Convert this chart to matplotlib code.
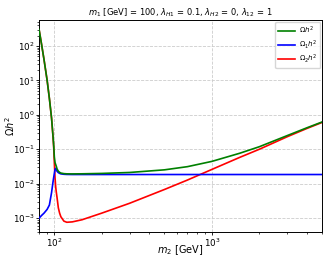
import matplotlib
matplotlib.use("Agg")
import matplotlib.pyplot as plt
from matplotlib.ticker import NullFormatter
import numpy as np

# m2 grid [GeV] and relic densities
m2 = np.array([80, 83, 86, 90, 93, 96, 98, 99, 100, 101, 102, 103, 104, 106,
               108, 110, 115, 120, 130, 150, 200, 300, 500, 700, 1000, 1500,
               2000, 3000, 4000, 5000])

omega1 = np.array([1.0e-3, 1.2e-3, 1.4e-3, 1.8e-3, 2.4e-3, 5.5e-3, 0.011,
                   0.015, 0.020, 0.026, 0.028, 0.026, 0.023, 0.021, 0.020,
                   0.0193, 0.0188, 0.0186, 0.0185, 0.0185, 0.0185, 0.0185,
                   0.0185, 0.0185, 0.0185, 0.0185, 0.0185, 0.0185, 0.0185,
                   0.0185])

omega2 = np.array([300, 110, 40, 10, 3, 0.8, 0.24, 0.12, 0.04, 0.015, 0.008,
                   0.0055, 0.004, 0.002, 0.0014, 0.0011, 8.2e-4, 7.6e-4,
                   7.8e-4, 9e-4, 1.4e-3, 2.7e-3, 6.8e-3, 0.0128, 0.026,
                   0.058, 0.10, 0.23, 0.40, 0.60])

omega = omega1 + omega2

fig = plt.figure(figsize=(3.34, 2.62), dpi=100)
ax = fig.add_axes([0.117, 0.115, 0.847, 0.809])

ax.loglog(m2, omega, color="green", lw=1.2, label=r"$\Omega h^2$", zorder=4)
ax.loglog(m2, omega1, color="blue", lw=1.2, label=r"$\Omega_1 h^2$", zorder=3)
ax.loglog(m2, omega2, color="red", lw=1.2, label=r"$\Omega_2 h^2$", zorder=2)

ax.set_xlim(80, 5000)
ax.set_ylim(4e-4, 570)
ax.xaxis.set_minor_formatter(NullFormatter())
ax.yaxis.set_minor_formatter(NullFormatter())
ax.grid(True, which="major", ls="--", color="0.8", lw=0.6)
ax.tick_params(labelsize=6.3, length=2.5, width=0.6, pad=1)
ax.tick_params(which="minor", length=1.5, width=0.5)
for s in ax.spines.values():
    s.set_linewidth(0.7)

ax.set_xlabel(r"$m_2$ [GeV]", fontsize=7)
ax.set_ylabel(r"$\Omega h^2$", fontsize=7)
# place axis labels where the reference has them
ax.xaxis.set_label_coords(0.5, -0.085)
ax.xaxis.label.set_va("center")
ax.yaxis.set_label_coords(-0.102, 0.5)
ax.yaxis.label.set_va("center")

ax.set_title(r"$m_1$ [GeV] = 100, $\lambda_{H1}$ = 0.1, $\lambda_{H2}$ = 0, $\lambda_{12}$ = 1",
             fontsize=6, pad=3)
ax.legend(loc="upper right", fontsize=5, handlelength=2.4, borderpad=0.4,
          labelspacing=0.3, handletextpad=0.6, borderaxespad=0.3)

fig.savefig("out.png", dpi=100)
